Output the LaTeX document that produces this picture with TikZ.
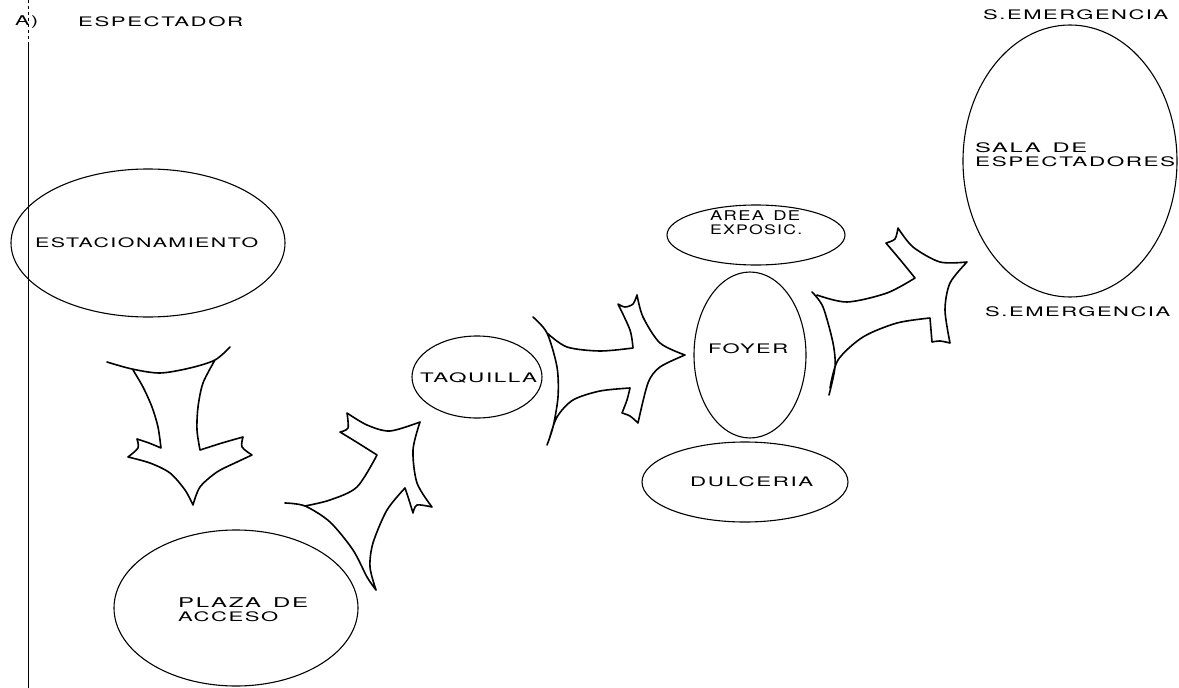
\documentclass[tikz,border=0pt]{standalone}
\usepackage{fontspec}
\usepackage{graphicx}
\usetikzlibrary{shapes.geometric}
\newfontfamily\lblfont{TeX Gyre Heros}[LetterSpace=7]
% a caps label stretched to a given width and a cap height of 9.8pt
\newcommand{\fit}[2]{\resizebox{#1pt}{9.8pt}{\lblfont #2}}
\begin{document}
\begin{tikzpicture}[x=1pt,y=-1pt,
  lbl/.style={font=\fontsize{10}{14}\selectfont, inner sep=0pt, anchor=west, align=left},
  room/.style={draw, ellipse, line width=1.1pt, inner sep=0pt},
  flow/.style={line width=1.6pt, line join=round, line cap=round},
  edge/.style={line width=0.9pt}]
\useasboundingbox (0,0) rectangle (1179,688);

% margin rule on the left
\coordinate (ruletop) at (28,0);
\coordinate (rulemid) at (28,45);
\coordinate (rulebot) at (28,688);
\draw[edge, dashed] (ruletop) -- (rulemid);
\draw[edge] (rulemid) -- (rulebot);

% headings
\node[lbl] (tag) at (15,22) {\fit{23}{A)}};
\node[lbl] (title) at (78,22) {\fit{165}{ESPECTADOR}};

% rooms
\node[room, minimum width=274pt, minimum height=148pt] (estac) at (148,243) {};
\node[room, minimum width=244pt, minimum height=156pt] (plaza) at (236,608) {};
\node[room, minimum width=130pt, minimum height=82pt] (taq) at (477,377) {};
\node[room, minimum width=112pt, minimum height=166pt] (foyer) at (750,355) {};
\node[room, minimum width=206pt, minimum height=80pt] (dulce) at (745,482) {};
\node[room, minimum width=178pt, minimum height=60pt] (expo) at (756,235) {};
\node[room, minimum width=214pt, minimum height=272pt] (sala) at (1070,161) {};

% room names
\node[lbl] (estacT) at (35,243) {\fit{223}{ESTACIONAMIENTO}};
\node[lbl] (plazaT) at (178,610) {\fit{130}{PLAZA\enspace DE}\\\fit{100}{ACCESO}};
\node[lbl] (taqT) at (420,378) {\fit{117}{TAQUILLA}};
\node[lbl] (foyerT) at (708,349) {\fit{80}{FOYER}};
\node[lbl] (dulceT) at (690,482) {\fit{123}{DULCERIA}};
\node[lbl] (expoT) at (710,223) {\fit{90}{AREA\enspace DE}\\\fit{92}{EXPOSIC.}};
\node[lbl] (salaT) at (975,155) {\fit{112}{SALA\enspace DE}\\\fit{200}{ESPECTADORES}};
\node[lbl] (exitN) at (983,15) {\fit{185}{S.EMERGENCIA}};
\node[lbl] (exitS) at (985,312) {\fit{185}{S.EMERGENCIA}};

% flow arrow: estacionamiento -> plaza
\draw[flow]
  plot[smooth] coordinates {(107,362) (132,369) (160,373) (190,368) (215,360) (230,347)}
  plot[smooth] coordinates {(133,370) (143,387) (152,407) (158,427) (161,448)}
  plot[smooth] coordinates {(161,448) (149,443) (137,439)}
  plot[smooth] coordinates {(137,439) (138,448) (128,457)}
  plot[smooth] coordinates {(128,457) (150,463) (170,473) (185,490) (193,505)}
  plot[smooth] coordinates {(193,505) (200,487) (217,472) (237,462) (252,455)}
  plot[smooth] coordinates {(252,455) (242,447) (243,437)}
  plot[smooth] coordinates {(243,437) (222,443) (200,450)}
  plot[smooth] coordinates {(200,450) (197,430) (198,407) (203,383) (215,360)};

% flow arrow: plaza -> taquilla
\draw[flow]
  plot[smooth] coordinates {(285,503) (305,506) (330,522) (353,550) (367,577) (376,590)}
  plot[smooth] coordinates {(305,506) (330,500) (357,487) (377,455)}
  plot[smooth] coordinates {(377,455) (358,443) (340,432)}
  plot[smooth] coordinates {(340,432) (348,428) (347,413)}
  plot[smooth] coordinates {(347,413) (367,425) (390,431) (420,422)}
  plot[smooth] coordinates {(420,422) (413,450) (417,483) (432,507)}
  plot[smooth] coordinates {(432,507) (417,505) (413,513)}
  plot[smooth] coordinates {(413,513) (409,500) (405,488)}
  plot[smooth] coordinates {(405,488) (387,510) (373,543) (370,567) (376,590)};

% flow arrow: taquilla -> foyer
\draw[flow]
  plot[smooth] coordinates {(533,317) (547,333) (557,367) (558,397) (553,427) (547,445)}
  plot[smooth] coordinates {(547,333) (567,347) (600,351) (633,348)}
  plot[smooth] coordinates {(633,348) (630,330) (618,304)}
  plot[smooth] coordinates {(618,304) (625,307) (633,304) (637,295)}
  plot[smooth] coordinates {(637,295) (643,317) (660,343) (685,355)}
  plot[smooth] coordinates {(685,355) (660,367) (648,383) (638,423)}
  plot[smooth] coordinates {(638,423) (630,416) (622,413)}
  plot[smooth] coordinates {(622,413) (627,400) (630,388)}
  plot[smooth] coordinates {(630,388) (600,391) (573,400) (557,417) (549,440)};

% flow arrow: foyer -> sala
\draw[flow]
  plot[smooth] coordinates {(812,292) (823,307) (833,343) (835,367) (829,395)}
  plot[smooth] coordinates {(817,295) (847,302) (887,293) (915,278)}
  plot[smooth] coordinates {(915,278) (902,262) (886,243)}
  plot[smooth] coordinates {(886,243) (895,239) (898,228)}
  plot[smooth] coordinates {(898,228) (913,247) (940,262) (967,262)}
  plot[smooth] coordinates {(967,262) (950,283) (945,310) (950,343)}
  plot[smooth] coordinates {(950,343) (940,341) (932,342)}
  plot[smooth] coordinates {(932,342) (931,330) (930,318)}
  plot[smooth] coordinates {(930,318) (897,323) (863,337) (838,360) (830,388)};
\end{tikzpicture}
\end{document}
